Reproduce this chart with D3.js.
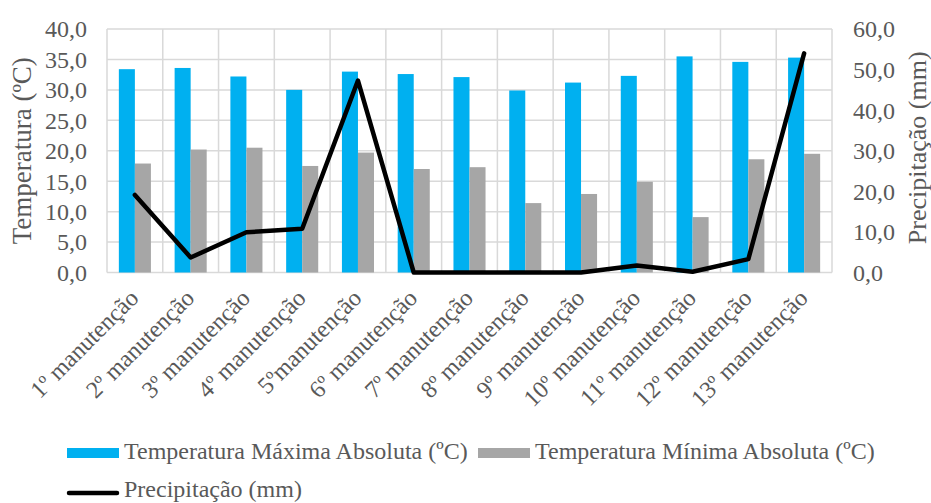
<!DOCTYPE html>
<html>
<head>
<meta charset="utf-8">
<script src="https://cdn.jsdelivr.net/npm/d3@7"></script>
<style>
  html, body { margin: 0; padding: 0; background: #fff; }
  svg { display: block; }
  text { font-family: "Liberation Serif", "Times New Roman", serif; fill: #595959; }
</style>
</head>
<body>
<svg id="chart" width="931" height="503"></svg>
<script>
const categories = ["1º manutenção","2º manutenção","3º manutenção","4º manutenção","5ºmanutenção","6º manutenção","7º manutenção","8º manutenção","9º manutenção","10º manutenção","11º manutenção","12º manutenção","13º manutenção"];
const tempMax = [33.4, 33.6, 32.2, 30.0, 33.0, 32.6, 32.1, 29.9, 31.2, 32.3, 35.5, 34.6, 35.3];
const tempMin = [17.9, 20.2, 20.5, 17.5, 19.7, 17.0, 17.3, 11.4, 12.9, 14.9, 9.1, 18.6, 19.5];
const precip = [19.1, 3.7, 9.9, 10.8, 47.3, 0.0, 0.0, 0.0, 0.0, 1.7, 0.2, 3.3, 54.0];
const leftTicks = [0, 5, 10, 15, 20, 25, 30, 35, 40];
const rightTicks = [0, 10, 20, 30, 40, 50, 60];
const seriesNames = ["Temperatura Máxima Absoluta (ºC)", "Temperatura Mínima Absoluta (ºC)", "Precipitação (mm)"];
const colors = ["#00b0f0", "#a6a6a6", "#000000"];

const svg = d3.select("#chart");
const L = 107, R = 832, T = 29, B = 272.5;
const fmt = v => d3.format(".1f")(v).replace(".", ",");

const x0 = d3.scaleBand().domain(categories).range([L, R]).padding(0);
const bw = x0.bandwidth();
const gw = bw * 0.575;
const x1 = d3.scaleBand().domain([0, 1]).range([bw/2 - gw/2, bw/2 + gw/2]).padding(0);
const yL = d3.scaleLinear().domain([0, 40]).range([B, T]);
const yR = d3.scaleLinear().domain([0, 60]).range([B, T]);

// gridlines
const grid = svg.append("g").attr("stroke", "#d9d9d9").attr("stroke-width", 1.5);
leftTicks.forEach(t => grid.append("line").attr("x1", L).attr("x2", R).attr("y1", yL(t)).attr("y2", yL(t)));
categories.forEach(c => grid.append("line").attr("x1", x0(c)).attr("x2", x0(c)).attr("y1", T).attr("y2", B));
grid.append("line").attr("x1", R).attr("x2", R).attr("y1", T).attr("y2", B);

// bars
const bars = svg.append("g");
[tempMax, tempMin].forEach((arr, si) => {
  bars.selectAll(null).data(arr).enter().append("rect")
    .attr("x", (d, i) => x0(categories[i]) + x1(si))
    .attr("width", x1.bandwidth())
    .attr("y", d => yL(d))
    .attr("height", d => B - yL(d))
    .attr("fill", colors[si]);
});

// line
const line = d3.line().x((d, i) => x0(categories[i]) + bw/2).y(d => yR(d));
svg.append("path").datum(precip).attr("d", line)
  .attr("fill", "none").attr("stroke", colors[2]).attr("stroke-width", 4.5)
  .attr("stroke-linejoin", "round").attr("stroke-linecap", "round");

// left axis
const axL = d3.axisLeft(yL).tickValues(leftTicks).tickFormat(fmt).tickSize(0).tickPadding(20);
const gL = svg.append("g").attr("transform", `translate(${L},0)`).call(axL);
gL.select(".domain").remove();
gL.selectAll("text").attr("font-size", 24).attr("font-family", "Liberation Serif").attr("fill", "#595959").attr("dy", "0.33em");

// right axis
const axR = d3.axisRight(yR).tickValues(rightTicks).tickFormat(fmt).tickSize(0).tickPadding(21);
const gR = svg.append("g").attr("transform", `translate(${R},0)`).call(axR);
gR.select(".domain").remove();
gR.selectAll("text").attr("font-size", 24).attr("font-family", "Liberation Serif").attr("fill", "#595959").attr("dy", "0.33em");

// category labels
const axB = d3.axisBottom(x0).tickSize(0).tickPadding(0);
const gB = svg.append("g").attr("transform", `translate(0,${B})`).call(axB);
gB.select(".domain").remove();
gB.selectAll("text")
  .attr("font-size", 24).attr("font-family", "Liberation Serif").attr("fill", "#595959")
  .attr("text-anchor", "end").attr("dy", 0).attr("y", 0)
  .attr("transform", "translate(5,27) rotate(-45)");

// axis titles
svg.append("text").attr("transform", `translate(31,${(T+B)/2}) rotate(-90)`)
  .attr("text-anchor", "middle").attr("font-size", 27).text("Temperatura (ºC)");
svg.append("text").attr("transform", `translate(926,${(T+B)/2 - 3}) rotate(-90)`)
  .attr("text-anchor", "middle").attr("font-size", 26).text("Precipitação (mm)");

// legend
const leg = svg.append("g");
const legItems = [
  {x: 67, y: 453, i: 0, ty: 459},
  {x: 478, y: 453, i: 1, ty: 459},
  {x: 67, y: 493, i: 2, ty: 497}
];
legItems.forEach(it => {
  if (it.i < 2) {
    leg.append("rect").attr("x", it.x).attr("y", it.y - 5).attr("width", 52).attr("height", 10).attr("fill", colors[it.i]);
  } else {
    leg.append("line").attr("x1", it.x + 2).attr("x2", it.x + 50).attr("y1", it.y).attr("y2", it.y)
      .attr("stroke", colors[it.i]).attr("stroke-width", 4.5).attr("stroke-linecap", "round");
  }
  leg.append("text").attr("x", it.x + 57).attr("y", it.ty).attr("font-size", 24).text(seriesNames[it.i]);
});
</script>
</body>
</html>
